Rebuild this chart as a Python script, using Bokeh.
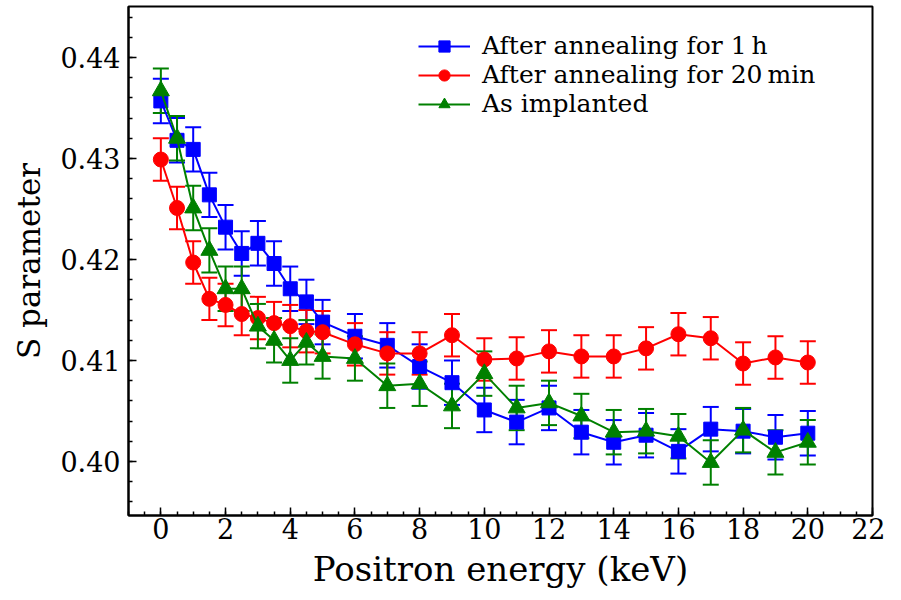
from bokeh.plotting import figure
from bokeh.models import (ColumnDataSource, Whisker, TeeHead, Legend, LegendItem,
                          FixedTicker, Range1d, PrintfTickFormatter)
from bokeh.embed import file_html
from bokeh.resources import INLINE

# ---- data ----
energy = [0, 0.5, 1, 1.5, 2, 2.5, 3, 3.5, 4, 4.5, 5, 6, 7, 8, 9, 10, 11, 12, 13, 14, 15, 16, 17, 18, 19, 20]

s_1h = [0.4357, 0.4318, 0.4309, 0.4264, 0.4232, 0.4206, 0.4216, 0.4196, 0.4171, 0.4158, 0.4138,
        0.4124, 0.4115, 0.4094, 0.4078, 0.4051, 0.4039, 0.4053, 0.4029, 0.4019, 0.4026, 0.4010,
        0.4032, 0.4030, 0.4024, 0.4028]
err_1h = [0.0022] * 26

s_20min = [0.4299, 0.4251, 0.4197, 0.4161, 0.4155, 0.4146, 0.4142, 0.4137, 0.4134, 0.4129, 0.4128,
           0.4116, 0.4107, 0.4107, 0.4125, 0.4101, 0.4102, 0.4109, 0.4104, 0.4104, 0.4112, 0.4126,
           0.4122, 0.4097, 0.4103, 0.4098]
err_20min = [0.0021] * 26

s_impl = [0.4367, 0.4320, 0.4251, 0.4209, 0.4171, 0.4171, 0.4134, 0.4120, 0.4100, 0.4118, 0.4104,
          0.4102, 0.4075, 0.4077, 0.4055, 0.4087, 0.4053, 0.4058, 0.4045, 0.4029, 0.4030, 0.4025,
          0.3999, 0.4031, 0.4009, 0.4019]
err_impl = [0.0022] * 26

labels = ["After annealing for 1\u2009h", "After annealing for 20\u2009min", "As implanted"]
colors = ["#0000ff", "#ff0000", "#008000"]
markers = ["square", "circle", "triangle"]
marker_sizes = [14, 15, 17]

x_ticks = [0, 2, 4, 6, 8, 10, 12, 14, 16, 18, 20, 22]
y_ticks = [0.40, 0.41, 0.42, 0.43, 0.44]

FONT = "DejaVu Serif"

p = figure(width=885, height=596, output_backend="svg", toolbar_location=None,
           x_range=Range1d(-1, 22), y_range=Range1d(0.39465, 0.44505),
           min_border_left=128, min_border_right=13, min_border_top=6, min_border_bottom=81)
p.grid.visible = False
p.outline_line_color = "black"
p.outline_line_width = 2
p.background_fill_color = "white"
p.border_fill_color = "white"

series = [(s_1h, err_1h), (s_20min, err_20min), (s_impl, err_impl)]
items = []
for (vals, errs), lab, col, mk, ms in zip(series, labels, colors, markers, marker_sizes):
    src = ColumnDataSource(dict(x=energy, y=vals,
                                lo=[v - e for v, e in zip(vals, errs)],
                                hi=[v + e for v, e in zip(vals, errs)]))
    wh = Whisker(source=src, base="x", lower="lo", upper="hi",
                 line_color=col, line_width=2,
                 lower_head=TeeHead(size=16, line_color=col, line_width=2),
                 upper_head=TeeHead(size=16, line_color=col, line_width=2))
    p.add_layout(wh)
    ln = p.line("x", "y", source=src, line_color=col, line_width=2)
    sc = p.scatter("x", "y", source=src, marker=mk, size=ms, fill_color=col, line_color=col)
    items.append(LegendItem(label=lab, renderers=[ln, sc]))

legend = Legend(items=items, location=(290, 397), border_line_color=None,
                background_fill_alpha=0, padding=0, margin=0, spacing=0,
                glyph_width=52, glyph_height=28, label_height=28, label_standoff=12,
                label_text_font=FONT, label_text_font_size="25px", label_text_color="black")
p.add_layout(legend)

for ax in (p.xaxis[0], p.yaxis[0]):
    ax.axis_line_width = 2
    ax.axis_line_color = "black"
    ax.major_tick_in = 8
    ax.major_tick_out = 0
    ax.minor_tick_in = 4
    ax.minor_tick_out = 0
    ax.major_tick_line_width = 1.5
    ax.minor_tick_line_width = 1.5
    ax.major_label_text_font = FONT
    ax.major_label_text_font_size = "27px"
    ax.major_label_text_color = "black"
    ax.axis_label_text_font = FONT
    ax.axis_label_text_font_style = "normal"
    ax.axis_label_text_color = "black"

p.xaxis.ticker = FixedTicker(ticks=x_ticks, minor_ticks=[v * 0.5 for v in range(-2, 45)])
p.yaxis.ticker = FixedTicker(ticks=y_ticks, minor_ticks=[0.394 + 0.002 * i for i in range(27)])
p.yaxis.formatter = PrintfTickFormatter(format="%.2f")
p.xaxis.major_label_standoff = 2
p.yaxis.major_label_standoff = 8

p.xaxis.axis_label = "Positron energy (keV)"
p.xaxis.axis_label_text_font_size = "34px"
p.xaxis.axis_label_standoff = 7

p.yaxis.axis_label = "S parameter"
p.yaxis.axis_label_text_font_size = "31px"
p.yaxis.axis_label_standoff = 10

open("out.html", "w").write(file_html(p, INLINE))
